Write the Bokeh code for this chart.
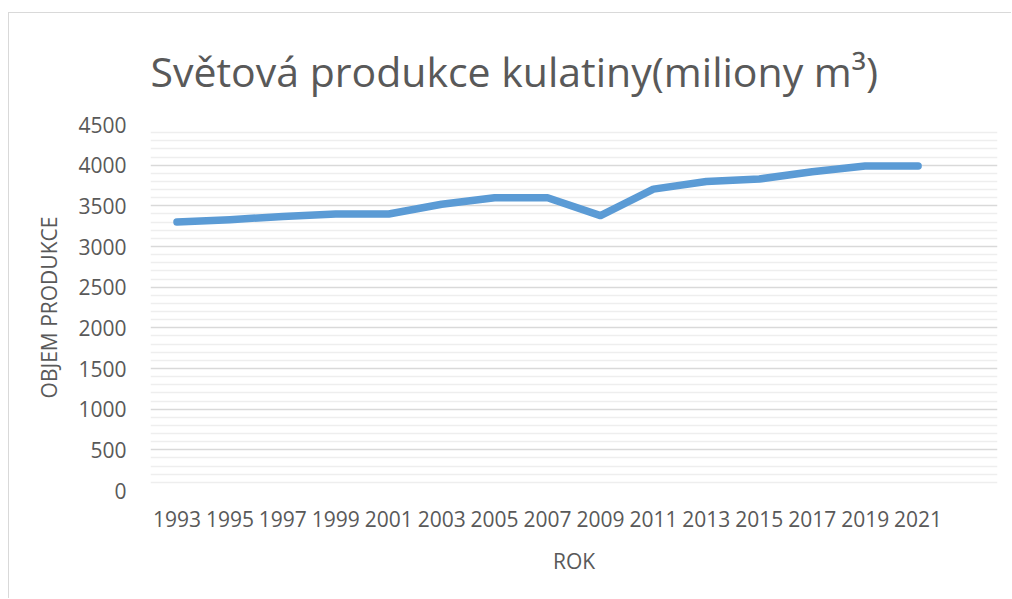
from bokeh.plotting import figure
from bokeh.models import Range1d, FixedTicker, Title
from bokeh.embed import file_html
from bokeh.resources import INLINE

years = [1993, 1995, 1997, 1999, 2001, 2003, 2005, 2007, 2009, 2011, 2013, 2015, 2017, 2019, 2021]
production = [3300, 3330, 3370, 3400, 3400, 3520, 3600, 3600, 3380, 3705, 3800, 3830, 3920, 3990, 3990]
y_ticks = [0, 500, 1000, 1500, 2000, 2500, 3000, 3500, 4000, 4500]
y_minor = [v for v in range(0, 4501, 100) if v % 500 != 0]

title_text = "Světová produkce kulatiny(miliony m³)"
x_label = "ROK"
y_label = "OBJEM PRODUKCE"

FONT = "Open Sans"
GREY = "#595959"

p = figure(width=1003, height=586, output_backend="svg", toolbar_location=None,
           x_range=Range1d(1992, 2024), y_range=Range1d(0, 4500),
           min_border_left=141, min_border_right=15, min_border_top=111, min_border_bottom=109)
p.styles = {"border-left": "1px solid #d9d9d9", "border-top": "1px solid #d9d9d9",
            "margin-top": "12px", "margin-left": "8px"}

t = Title(text=title_text, align="left", offset=0, standoff=52,
          text_font=FONT, text_font_size="41px", text_color=GREY, text_font_style="normal",
          text_line_height=1.0)
p.add_layout(t, "above")

p.line(years, production, line_color="#5B9BD5", line_width=7.5, line_cap="round", line_join="round")

p.outline_line_color = None
p.background_fill_color = "white"
p.border_fill_color = "white"

p.xgrid.grid_line_color = None
p.ygrid.ticker = FixedTicker(ticks=y_ticks, minor_ticks=y_minor)
p.ygrid.grid_line_color = "#d9d9d9"
p.ygrid.grid_line_width = 1.5
p.ygrid.minor_grid_line_color = "#eeeeee"
p.ygrid.minor_grid_line_width = 1.5

p.yaxis.ticker = FixedTicker(ticks=y_ticks)
p.xaxis.ticker = FixedTicker(ticks=years)
for ax in (p.xaxis, p.yaxis):
    ax.axis_line_color = None
    ax.major_tick_line_color = None
    ax.minor_tick_line_color = None
    ax.major_tick_out = 0
    ax.major_tick_in = 0
    ax.major_label_text_font = FONT
    ax.major_label_text_font_size = "21px"
    ax.major_label_text_color = GREY
    ax.axis_label_text_font = FONT
    ax.axis_label_text_font_size = "21px"
    ax.axis_label_text_color = GREY
    ax.axis_label_text_font_style = "normal"

p.yaxis.major_label_standoff = 24
p.xaxis.major_label_standoff = 20
p.xaxis.axis_label = x_label
p.yaxis.axis_label = y_label
p.xaxis.axis_label_standoff = 17
p.yaxis.axis_label_standoff = 12

open("out.html", "w").write(file_html(p, INLINE))
